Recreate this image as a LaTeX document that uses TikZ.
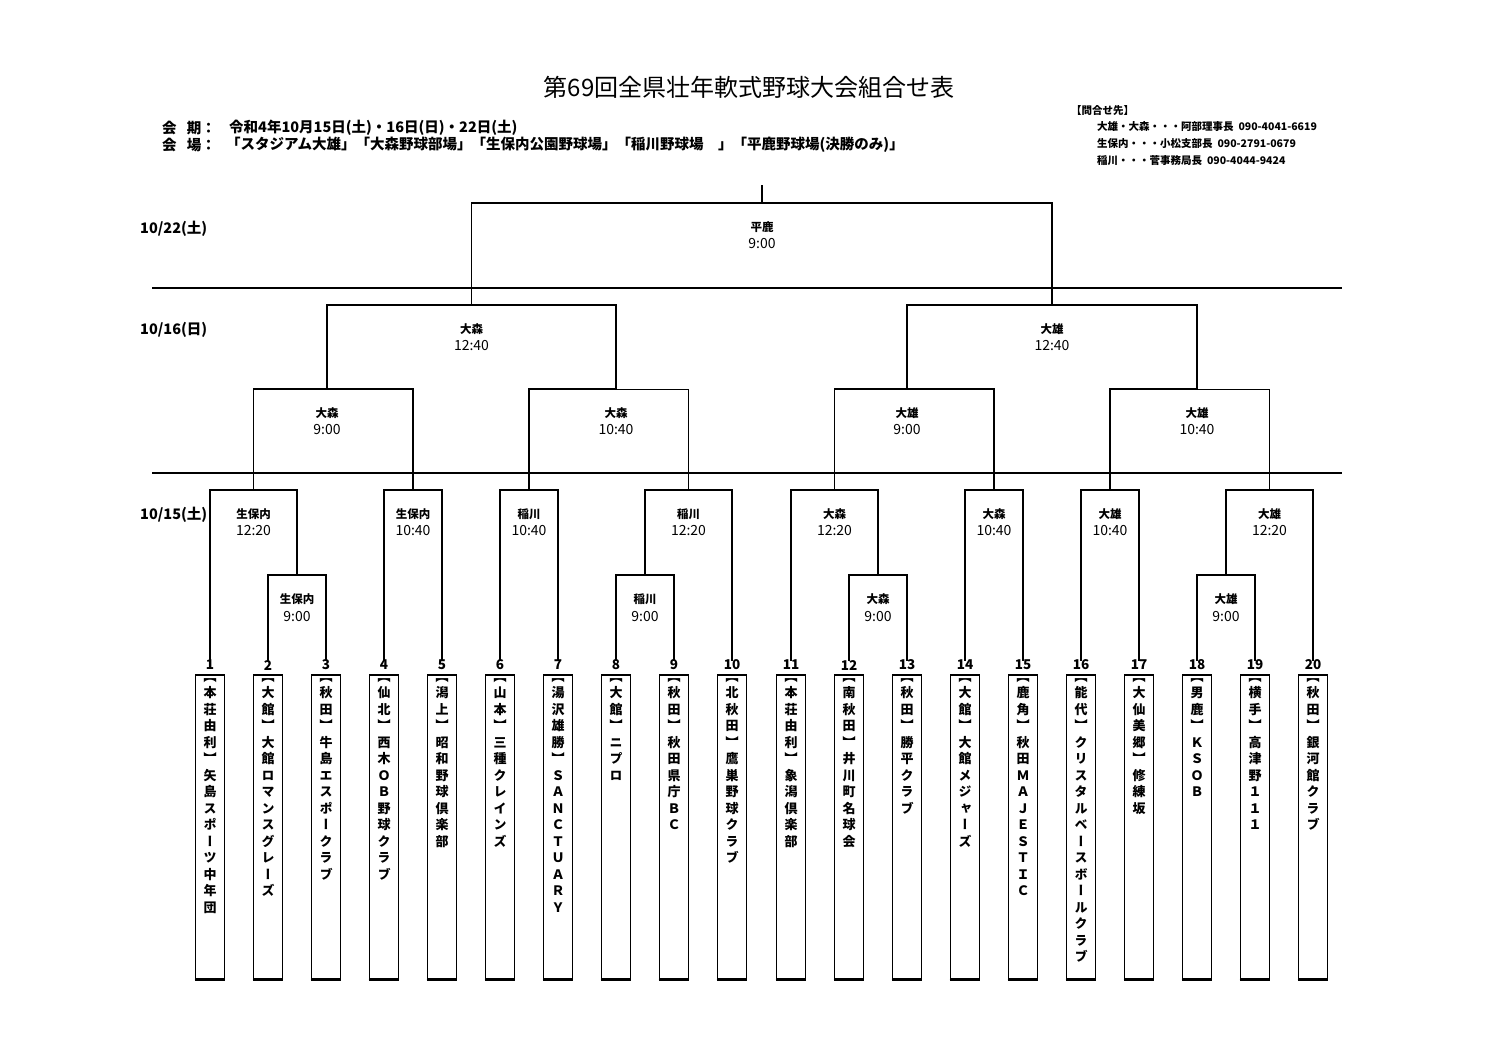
\documentclass[tikz,border=0pt]{standalone}
\usepackage{fontspec}
\setmainfont{Noto Sans CJK JP}
\newfontfamily\vjp{Noto Sans CJK JP}[RawFeature=+vert]
\def\vtstop{}
\def\vtl#1{\ifx#1\vtstop\else\hbox to 15pt{\hss#1\hss}\expandafter\vtl\fi}
\newcommand\vt[1]{\vbox{\baselineskip=16.5pt\lineskiplimit=-30pt\lineskip=0pt\vtl#1\vtstop}}
\tikzset{
  br/.style={line width=1.8pt, line cap=rect},
  brthin/.style={line width=1pt},
  sep/.style={line width=1.8pt},
  numlab/.style={inner sep=0pt, font=\fontsize{13.5}{13.5}\selectfont\bfseries},
  teambox/.style={draw, line width=1.6pt, minimum width=29pt, minimum height=304pt, inner sep=0pt},
  teamtxt/.style={anchor=north, inner sep=0pt, font=\vjp\fontsize{13}{16}\selectfont\bfseries},
  venue/.style={inner sep=0pt, font=\fontsize{11.5}{12}\selectfont\bfseries},
  gtime/.style={inner sep=0pt, font=\fontsize{14}{14}\selectfont},
  datelab/.style={anchor=west, inner sep=0pt, font=\fontsize{14.5}{14.5}\selectfont\bfseries},
  hdr/.style={anchor=west, inner sep=0pt, font=\fontsize{14.5}{15}\selectfont\bfseries},
  contact/.style={anchor=west, inner sep=0pt, font=\fontsize{10.5}{10.5}\selectfont\bfseries},
}
\newcommand\team[3]{%
  \node[numlab] (n#1) at (#2,665) {#1};
  \node[teambox] (b#1) at (#2,827) {};
  \draw[line width=2.6pt] (b#1.south west) -- (b#1.south east);
  \node[teamtxt] (t#1) at ([yshift=-4pt]b#1.north) {\vt{#3}};
}
\newcommand\glab[3]{%
  \node[venue] at ([yshift=-24pt]#1) {#2};
  \node[gtime] at ([yshift=-41pt]#1) {#3};
}
\begin{document}
\begin{tikzpicture}[x=1pt,y=-1pt]
\useasboundingbox (0,0) rectangle (1497,1058);
\fill[white] (0,0) rectangle (1497,1058);

% title and header
\node[inner sep=0pt, font=\fontsize{24}{24}\selectfont] (title) at (749,87) {第69回全県壮年軟式野球大会組合せ表};
\node[hdr] (h1a) at (162,128) {会\hspace{0.7em}期：};
\node[hdr] (h1b) at (229,128) {令和4年10月15日(土)・16日(日)・22日(土)};
\node[hdr] (h2a) at (162,145) {会\hspace{0.7em}場：};
\node[hdr] (h2b) at (226,145) {「スタジアム大雄」「大森野球部場」「生保内公園野球場」「稲川野球場　」「平鹿野球場(決勝のみ)」};

\node[contact] (c0) at (1071,111) {【問合せ先】};
\node[contact] (c1) at (1097,127) {大雄・大森・・・阿部理事長\ \ 090-4041-6619};
\node[contact] (c2) at (1097,144) {生保内・・・小松支部長\ \ 090-2791-0679};
\node[contact] (c3) at (1097,161) {稲川・・・菅事務局長\ \ 090-4044-9424};

% dates
\node[datelab] (d1) at (140,229) {10/22(土)};
\node[datelab] (d2) at (140,330) {10/16(日)};
\node[datelab] (d3) at (140,515) {10/15(土)};

% separators
\coordinate (sepAl) at (152,288); \coordinate (sepAr) at (1342,288);
\coordinate (sepBl) at (152,473); \coordinate (sepBr) at (1342,473);
\draw[sep] (sepAl) -- (sepAr);
\draw[sep] (sepBl) -- (sepBr);

% teams
\team{1}{210}{【本荘由利】矢島スポーツ中年団}
\team{2}{268}{【大館】大館ロマンスグレーズ}
\team{3}{326}{【秋田】牛島エスポークラブ}
\team{4}{384}{【仙北】西木ＯＢ野球クラブ}
\team{5}{442}{【潟上】昭和野球倶楽部}
\team{6}{500}{【山本】三種クレインズ}
\team{7}{558}{【湯沢雄勝】ＳＡＮＣＴＵＡＲＹ}
\team{8}{616}{【大館】ニプロ}
\team{9}{674}{【秋田】秋田県庁ＢＣ}
\team{10}{732}{【北秋田】鷹巣野球クラブ}
\team{11}{791}{【本荘由利】象潟倶楽部}
\team{12}{849}{【南秋田】井川町名球会}
\team{13}{907}{【秋田】勝平クラブ}
\team{14}{965}{【大館】大館メジャーズ}
\team{15}{1023}{【鹿角】秋田ＭＡＪＥＳＴＩＣ}
\team{16}{1081}{【能代】クリスタルベースボールクラブ}
\team{17}{1139}{【大仙美郷】修練坂}
\team{18}{1197}{【男鹿】ＫＳＯＢ}
\team{19}{1255}{【横手】高津野１１１}
\team{20}{1313}{【秋田】銀河館クラブ}

% game points
\coordinate (gB) at (297,575);
\coordinate (gA) at (253.5,490);
\coordinate (gC) at (413,490);
\coordinate (gD) at (529,490);
\coordinate (gF) at (645,575);
\coordinate (gE) at (688.5,490);
\coordinate (gH) at (878,575);
\coordinate (gG) at (834.5,490);
\coordinate (gI) at (994,490);
\coordinate (gJ) at (1110,490);
\coordinate (gL) at (1226,575);
\coordinate (gK) at (1269.5,490);
\coordinate (q1) at (327,389);
\coordinate (q2) at (616,389);
\coordinate (q3) at (907,389);
\coordinate (q4) at (1197,389);
\coordinate (s1) at (471.5,305);
\coordinate (s2) at (1052,305);
\coordinate (f) at (762,203);
\coordinate (top) at (762,186);

% first round
\draw[br] (n2.north) |- (gB) -| (n3.north);
\draw[br] (n1.north) |- (gA) -| (gB);
\draw[br] (n4.north) |- (gC) -| (n5.north);
\draw[br] (n6.north) |- (gD) -| (n7.north);
\draw[br] (n8.north) |- (gF) -| (n9.north);
\draw[br] (gF) |- (gE) -| (n10.north);
\draw[br] (n12.north) |- (gH) -| (n13.north);
\draw[br] (n11.north) |- (gG) -| (gH);
\draw[br] (n14.north) |- (gI) -| (n15.north);
\draw[br] (n16.north) |- (gJ) -| (n17.north);
\draw[br] (n18.north) |- (gL) -| (n19.north);
\draw[br] (gL) |- (gK) -| (n20.north);

% quarter finals
\draw[br] (gA) |- (q1) -| (gC);
\draw[br] (gD) |- (q2);
\draw[brthin] (q2) -| (gE);
\draw[br] (gG) |- (q3) -| (gI);
\draw[br] (gJ) |- (q4);
\draw[brthin] (q4) -| (gK);

% semis and final
\draw[br] (q1) |- (s1) -| (q2);
\draw[br] (q3) |- (s2) -| (q4);
\draw[br] (s1) |- (f) -| (s2);
\draw[br] (f) -- (top);

% game labels
\glab{f}{平鹿}{9:00}
\glab{s1}{大森}{12:40}
\glab{s2}{大雄}{12:40}
\glab{q1}{大森}{9:00}
\glab{q2}{大森}{10:40}
\glab{q3}{大雄}{9:00}
\glab{q4}{大雄}{10:40}
\glab{gA}{生保内}{12:20}
\glab{gB}{生保内}{9:00}
\glab{gC}{生保内}{10:40}
\glab{gD}{稲川}{10:40}
\glab{gE}{稲川}{12:20}
\glab{gF}{稲川}{9:00}
\glab{gG}{大森}{12:20}
\glab{gH}{大森}{9:00}
\glab{gI}{大森}{10:40}
\glab{gJ}{大雄}{10:40}
\glab{gK}{大雄}{12:20}
\glab{gL}{大雄}{9:00}
\end{tikzpicture}
\end{document}
